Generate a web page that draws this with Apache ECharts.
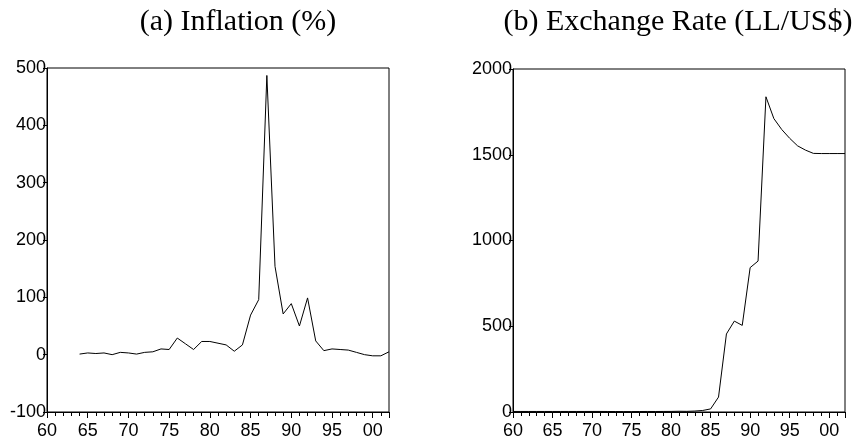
<!DOCTYPE html>
<html><head><meta charset="utf-8">
<script src="https://cdn.jsdelivr.net/npm/echarts@6/dist/echarts.min.js"></script>
<style>html,body{margin:0;padding:0;background:#fff}#c{width:862px;height:445px}</style>
</head><body><div id="c"></div>
<script>
const inflYears = [1964,1965,1966,1967,1968,1969,1970,1971,1972,1973,1974,1975,1976,1977,1978,1979,1980,1981,1982,1983,1984,1985,1986,1987,1988,1989,1990,1991,1992,1993,1994,1995,1996,1997,1998,1999,2000,2001,2002];
const inflation = [1,3,2,3,0,4,3,1,4,5,10,9,29,19,9,23,23,20,17,6,17,69,96,487,154,71,89,50,99,24,7,10,9,8,4,0,-2,-2,5];
const fxYears = [1960,1961,1962,1963,1964,1965,1966,1967,1968,1969,1970,1971,1972,1973,1974,1975,1976,1977,1978,1979,1980,1981,1982,1983,1984,1985,1986,1987,1988,1989,1990,1991,1992,1993,1994,1995,1996,1997,1998,1999,2000,2001,2002];
const exchange = [3.1,3.1,3.1,3.1,3.1,3.1,3.1,3.1,3.1,3.1,3.2,3.2,3.0,2.6,2.3,2.3,2.9,3.1,3.0,3.2,3.4,4.3,3.8,5.5,8.9,18,87,455,530,505,842,880,1838,1711,1647,1596,1552,1527,1508,1507,1507,1507,1507];
const titles = ['(a) Inflation (%)', '(b) Exchange Rate (LL/US$)'];

const font = 'Liberation Sans, Arial, sans-serif';
function xAxis(gi){
  return {
    type:'value', gridIndex:gi, min:1960, max:2002, interval:5,
    axisLine:{show:true,onZero:false,lineStyle:{color:'#000',width:1}},
    axisTick:{show:true,length:6,inside:false,lineStyle:{color:'#000'}},
    minorTick:{show:true,splitNumber:5,length:4,lineStyle:{color:'#000'}},
    splitLine:{show:false},
    axisLabel:{color:'#000',fontFamily:font,fontSize:18,margin:10,
      formatter:v=>String(v%100).padStart(2,'0')}
  };
}
function yAxis(gi,min,max,interval){
  return {
    type:'value', gridIndex:gi, min:min, max:max, interval:interval,
    axisLine:{show:true,onZero:false,lineStyle:{color:'#000',width:1}},
    axisTick:{show:true,length:4,lineStyle:{color:'#000'}},
    splitLine:{show:false},
    axisLabel:{color:'#000',fontFamily:font,fontSize:18,margin:1,formatter:v=>String(v)}
  };
}
const titleStyle = {fontFamily:'Liberation Serif, Times New Roman, serif',fontSize:30,fontWeight:'normal',color:'#000'};
const chart = echarts.init(document.getElementById('c'));
chart.setOption({
  animation:false,
  backgroundColor:'#fff',
  title:[
    {text:titles[0],left:233,top:2,textAlign:'center',textStyle:titleStyle},
    {text:titles[1],left:673,top:2,textAlign:'center',textStyle:titleStyle}
  ],
  grid:[
    {left:47,top:68,width:342,height:344,show:true,borderColor:'#000',borderWidth:1,backgroundColor:'transparent'},
    {left:513,top:69,width:332,height:343,show:true,borderColor:'#000',borderWidth:1,backgroundColor:'transparent'}
  ],
  xAxis:[xAxis(0),xAxis(1)],
  yAxis:[yAxis(0,-100,500,100),yAxis(1,0,2000,500)],
  series:[
    {type:'line',xAxisIndex:0,yAxisIndex:0,data:inflYears.map((y,i)=>[y,inflation[i]]),showSymbol:false,lineStyle:{color:'#000',width:1},silent:true},
    {type:'line',xAxisIndex:1,yAxisIndex:1,data:fxYears.map((y,i)=>[y,exchange[i]]),showSymbol:false,lineStyle:{color:'#000',width:1},silent:true}
  ]
});
</script></body></html>
